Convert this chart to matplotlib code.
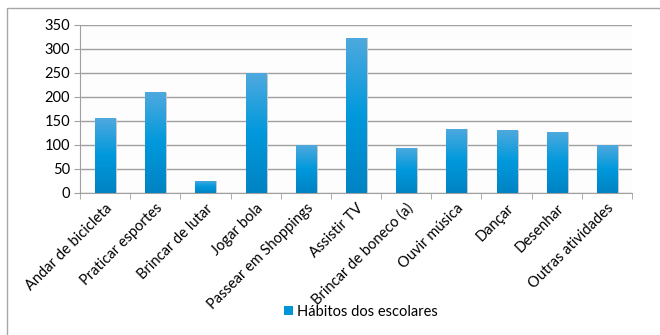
import matplotlib
matplotlib.use("Agg")
import matplotlib.pyplot as plt
import numpy as np
from matplotlib.colors import LinearSegmentedColormap
from matplotlib.patches import Rectangle

categories = ["Andar de bicicleta", "Praticar esportes", "Brincar de lutar", "Jogar bola",
              "Passear em Shoppings", "Assistir TV", "Brincar de boneco (a)", "Ouvir música",
              "Dançar", "Desenhar", "Outras atividades"]
values = [156, 210, 26, 250, 99, 323, 94, 134, 131, 128, 99]
series_name = "Hábitos dos escolares"
yticks = [0, 50, 100, 150, 200, 250, 300, 350]

plt.rcParams['font.family'] = ['Lato', 'DejaVu Sans']
FS = 10.5

fig = plt.figure(figsize=(6.6, 3.35), dpi=100)
fig.patch.set_facecolor('white')
# chart-area border
fig.add_artist(Rectangle((7/660, -0.1), 1.2, (335-8)/335 + 0.1, transform=fig.transFigure,
                         fill=False, edgecolor='#a6a6a6', linewidth=1.0))

ax = fig.add_axes([80/660, 1-193/335, (632-80)/660, (193-25)/335])
ax.set_facecolor('#fdfdfd')
x = np.arange(len(categories))
bars = ax.bar(x, values, width=0.4, color='#0095d9', zorder=3, label=series_name)

cmap = LinearSegmentedColormap.from_list('g', ['#0083c3', '#0099dc', '#4fa9de'])
grad = np.linspace(0, 1, 256).reshape(-1, 1)
for b in bars:
    x0, y0 = b.get_x(), b.get_y()
    w, h = b.get_width(), b.get_height()
    # subtle shadow
    ax.add_patch(Rectangle((x0 + 0.02, y0), w + 0.02, h - 1, facecolor='#c8c8c8', edgecolor='none', zorder=2))
    im = ax.imshow(grad, cmap=cmap, origin='lower', aspect='auto',
                   extent=(x0, x0 + w, y0, y0 + h), zorder=3.5)
    im.set_clip_path(b)

ax.set_xlim(-0.5, len(categories) - 0.5)
ax.set_ylim(0, 350)
ax.set_yticks(yticks)
ax.yaxis.grid(True, color='#a0a0a0', linewidth=1.0, zorder=0)
ax.set_axisbelow(True)

ax.set_xticks(x)
ax.set_xticklabels(categories, rotation=45, ha='right', rotation_mode='anchor', fontsize=FS)
ax.tick_params(axis='x', length=0, pad=6)
ax.set_xticks(np.arange(-0.5, len(categories)), minor=True)
ax.tick_params(axis='x', which='minor', length=4, color='#a0a0a0', direction='out')
ax.tick_params(axis='y', length=4, color='#a0a0a0', labelsize=FS, pad=3)

for s in ['top', 'right']:
    ax.spines[s].set_visible(False)
for s in ['left', 'bottom']:
    ax.spines[s].set_color('#a0a0a0')

leg = fig.legend(handles=[Rectangle((0, 0), 1, 1, facecolor='#0095d9')], labels=[series_name],
                 loc='center', bbox_to_anchor=(361/660, 1-312/335), frameon=False,
                 fontsize=FS, handlelength=0.6, handleheight=0.6, handletextpad=0.3)

fig.savefig('out.png', dpi=100, facecolor='white')
